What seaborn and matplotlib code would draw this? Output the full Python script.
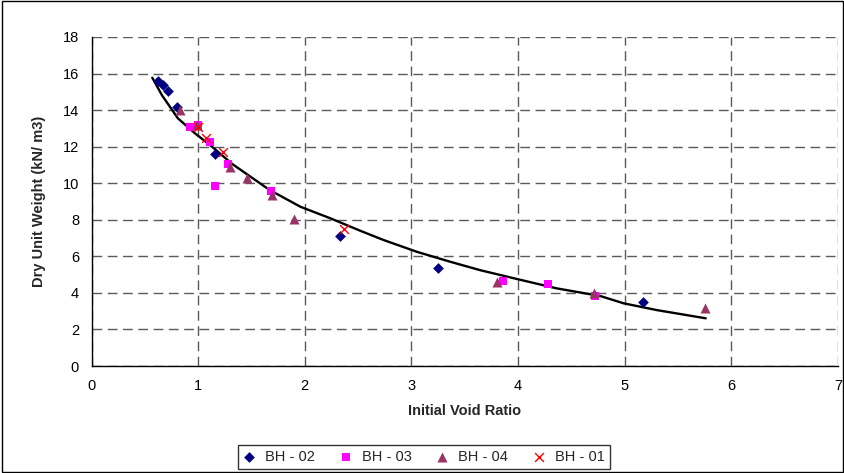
import matplotlib
matplotlib.use("Agg")
import matplotlib.pyplot as plt
import seaborn as sns
import pandas as pd
from matplotlib.patches import Rectangle

# Borehole samples: initial void ratio (e0) and dry unit weight (kN/m3)
bh02_e = [0.62, 0.67, 0.72, 0.80, 1.16, 2.33, 3.25, 5.17]
bh02_g = [15.60, 15.35, 15.04, 14.19, 11.58, 7.12, 5.38, 3.48]

bh03_e = [0.92, 1.00, 1.11, 1.28, 1.16, 1.68, 3.86, 4.28, 4.72]
bh03_g = [13.09, 13.18, 12.24, 11.05, 9.86, 9.55, 4.67, 4.49, 3.83]

bh04_e = [0.83, 0.99, 1.30, 1.46, 1.69, 1.90, 3.80, 4.71, 5.75]
bh04_g = [14.00, 13.18, 10.90, 10.27, 9.35, 8.03, 4.61, 3.97, 3.16]

bh01_e = [1.00, 1.07, 1.23, 2.37]
bh01_g = [13.09, 12.49, 11.69, 7.48]

# Trend line through the combined data
trend_e = [0.57, 0.66, 0.81, 0.97, 1.13, 1.32, 1.67, 1.96, 2.24, 2.52, 2.74,
           3.05, 3.36, 3.64, 3.96, 4.36, 4.77, 4.99, 5.30, 5.76]
trend_g = [15.77, 14.82, 13.55, 12.73, 12.00, 11.05, 9.63, 8.71, 8.08, 7.40,
           6.89, 6.25, 5.71, 5.25, 4.80, 4.25, 3.83, 3.43, 3.06, 2.61]

x_ticks = [0, 1, 2, 3, 4, 5, 6, 7]
y_ticks = [0, 2, 4, 6, 8, 10, 12, 14, 16, 18]

sns.set_style("white")
plt.rcParams["font.family"] = ["Liberation Sans", "DejaVu Sans"]

fig = plt.figure(figsize=(8.45, 4.73), dpi=100)
ax = fig.add_axes([0.1083, 0.2262, 0.8834, 0.6956])

trend = pd.DataFrame({"e": trend_e, "g": trend_g})
sns.lineplot(data=trend, x="e", y="g", sort=False, estimator=None,
             color="black", linewidth=1.7, legend=False, ax=ax, zorder=3)

series = [
    ("BH - 02", bh02_e, bh02_g, "D", "#000080", 30, 0.0),
    ("BH - 03", bh03_e, bh03_g, "s", "#FF00FF", 32, 0.0),
    ("BH - 04", bh04_e, bh04_g, "^", "#993366", 52, 0.0),
    ("BH - 01", bh01_e, bh01_g, "x", "#FF0000", 40, 1.0),
]
for name, e, g, mk, col, size, lw in series:
    df = pd.DataFrame({"e": e, "g": g})
    sns.scatterplot(data=df, x="e", y="g", marker=mk, color=col, s=size,
                    linewidth=lw, edgecolor=col if mk != "x" else None,
                    label=name, ax=ax, zorder=4)

ax.set_xlim(0, 7)
ax.set_ylim(0, 18)
ax.set_xticks(x_ticks)
ax.set_yticks(y_ticks)
ax.grid(True, color="#5a5a5a", linestyle=(0, (7, 4)), linewidth=1.0)
ax.set_axisbelow(True)

for side in ["top", "right"]:
    ax.spines[side].set_visible(False)
for side in ["left", "bottom"]:
    ax.spines[side].set_color("black")
    ax.spines[side].set_linewidth(1.0)

ax.tick_params(axis="both", labelsize=10.5, colors="black", length=5,
               width=1.0, direction="out")
ax.tick_params(axis="x", pad=4)
ax.tick_params(axis="y", pad=4)

ax.set_xlabel("Initial Void Ratio", fontsize=10.5, fontweight="bold",
              labelpad=8)
ax.set_ylabel("Dry Unit Weight (kN/ m3)", fontsize=10.5, fontweight="bold",
              labelpad=12)

handles, labels = ax.get_legend_handles_labels()
leg = ax.legend(handles, labels, ncol=4, loc="center",
                bbox_to_anchor=(0.502, 0.034), bbox_transform=fig.transFigure,
                frameon=True, fancybox=False, edgecolor="black",
                fontsize=10.5, handlelength=0.8, handletextpad=0.7,
                columnspacing=1.7, borderpad=0.35)
leg.get_frame().set_linewidth(1.0)

# outer chart border
fig.patches.append(Rectangle((0.002, 0.003), 0.996, 0.994,
                             transform=fig.transFigure, fill=False,
                             edgecolor="black", linewidth=1.0))

fig.savefig("out.png", dpi=100)
